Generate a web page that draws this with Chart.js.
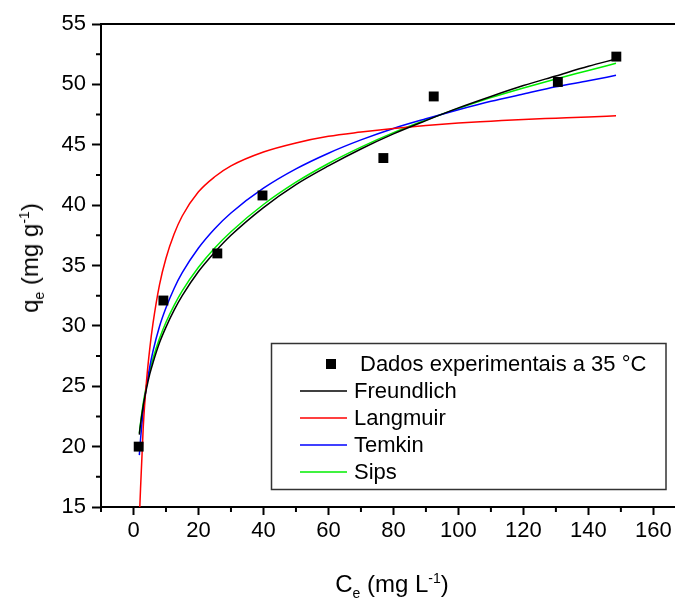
<!DOCTYPE html>
<html>
<head>
<meta charset="utf-8">
<script src="https://cdn.jsdelivr.net/npm/chart.js@4/dist/chart.umd.min.js"></script>
<style>
  body { margin: 0; background: #fff; font-family: "Liberation Sans", Arial, sans-serif; }
  #wrap { position: relative; width: 675px; height: 599px; }
  .ttl { position: absolute; font-size: 24px; color: #000; white-space: nowrap; line-height: 1; }
  .ttl sub, .ttl sup { font-size: 14px; line-height: 0; }
  #xt { left: 392px; top: 572px; transform: translateX(-50%); }
  #yt { left: 30px; top: 258px; transform: translate(-50%, -50%) rotate(-90deg); }
</style>
</head>
<body>
<div id="wrap">
  <canvas id="chart" width="675" height="599"></canvas>
  <div class="ttl" id="xt">C<sub>e</sub> (mg L<sup>-1</sup>)</div>
  <div class="ttl" id="yt">q<sub>e</sub> (mg g<sup>-1</sup>)</div>
</div>
<script>
// pontos experimentais
const ceData = [1.6, 9.2, 25.8, 39.7, 76.9, 92.4, 130.6, 148.6];
const qeData = [20.0, 32.1, 36.0, 40.8, 43.9, 49.0, 50.2, 52.3];

// curvas ajustadas
const fitCe = [1.8, 2, 3, 4, 5, 6, 8, 10, 12.5, 15, 20, 25, 30, 40, 50, 60, 70, 80, 90, 100, 110, 120, 130, 140, 148.5];
const freundlich = [21.0, 21.5, 23.4, 24.8, 26.0, 26.95, 28.6, 29.9, 31.3, 32.5, 34.5, 36.1, 37.5, 39.8, 41.7, 43.25, 44.65, 45.9, 47.0, 48.05, 49.0, 49.9, 50.7, 51.5, 52.1];
const langmuir = [14.0, 15.4, 21.6, 25.4, 28.1, 30.2, 33.4, 35.6, 37.6, 39.1, 41.1, 42.35, 43.25, 44.4, 45.15, 45.7, 46.05, 46.35, 46.6, 46.8, 46.95, 47.1, 47.2, 47.3, 47.4];
const temkin = [19.3, 20.05, 22.95, 25.0, 26.6, 27.9, 29.95, 31.5, 33.1, 34.4, 36.45, 38.05, 39.35, 41.4, 43.0, 44.3, 45.4, 46.35, 47.15, 47.9, 48.6, 49.2, 49.8, 50.3, 50.75];
const sips = [21.1, 21.6, 23.6, 25.1, 26.3, 27.3, 28.95, 30.3, 31.7, 32.9, 34.85, 36.45, 37.8, 40.05, 41.9, 43.45, 44.8, 46.0, 47.05, 48.0, 48.9, 49.7, 50.45, 51.15, 51.75];

const xTicks = [0, 20, 40, 60, 80, 100, 120, 140, 160];
const xMinor = [-10, 10, 30, 50, 70, 90, 110, 130, 150];
const yTicks = [15, 20, 25, 30, 35, 40, 45, 50, 55];
const yMinor = [17.5, 22.5, 27.5, 32.5, 37.5, 42.5, 47.5, 52.5];

const FONT = '"Liberation Sans", Arial, sans-serif';
const pts = (xs, ys) => xs.map((x, i) => ({ x: x, y: ys[i] }));

function curve(label, values, color) {
  return {
    label: label,
    data: pts(fitCe, values),
    showLine: true,
    borderColor: color,
    borderWidth: 1.5,
    pointRadius: 0,
    cubicInterpolationMode: "monotone",
    fill: false,
  };
}

const extras = {
  id: "extras",
  afterDraw(chart) {
    const ctx = chart.ctx;
    const a = chart.chartArea;
    const sx = chart.scales.x, sy = chart.scales.y;
    ctx.save();
    ctx.strokeStyle = "#000";
    ctx.lineWidth = 2;
    // linha superior e continuação do eixo x até a borda
    ctx.beginPath();
    ctx.moveTo(a.left, a.top);
    ctx.lineTo(chart.width, a.top);
    ctx.moveTo(a.right, a.bottom);
    ctx.lineTo(chart.width, a.bottom);
    ctx.stroke();
    // ticks menores
    ctx.beginPath();
    xMinor.forEach((v) => {
      const px = sx.getPixelForValue(v);
      ctx.moveTo(px, a.bottom);
      ctx.lineTo(px, a.bottom + 5);
    });
    yMinor.forEach((v) => {
      const py = sy.getPixelForValue(v);
      ctx.moveTo(a.left, py);
      ctx.lineTo(a.left - 5, py);
    });
    ctx.stroke();

    // legenda
    ctx.lineWidth = 1.5;
    ctx.strokeStyle = "#333";
    ctx.strokeRect(271.5, 343.5, 394.5, 146);
    ctx.font = "22px " + FONT;
    ctx.textBaseline = "middle";
    chart.data.datasets.forEach((ds, i) => {
      const y = 364 + i * 27;
      if (i === 0) {
        ctx.fillStyle = "#000";
        ctx.fillRect(326, y - 5, 10, 10);
        ctx.fillText(ds.label, 360, y + 1);
      } else {
        ctx.strokeStyle = ds.borderColor;
        ctx.lineWidth = 1.5;
        ctx.beginPath();
        ctx.moveTo(300, y);
        ctx.lineTo(347, y);
        ctx.stroke();
        ctx.fillStyle = "#000";
        ctx.fillText(ds.label, 354, y + 1);
      }
    });
    ctx.restore();
  },
};

new Chart(document.getElementById("chart"), {
  type: "scatter",
  data: {
    datasets: [
      {
        label: "Dados experimentais a 35 °C",
        data: pts(ceData, qeData),
        pointStyle: "rect",
        pointRadius: 7,
        pointHoverRadius: 7,
        backgroundColor: "#000",
        borderColor: "#000",
        borderWidth: 0,
        showLine: false,
        order: 0,
      },
      curve("Freundlich", freundlich, "#000000"),
      curve("Langmuir", langmuir, "#ff0000"),
      curve("Temkin", temkin, "#0000ff"),
      curve("Sips", sips, "#00ee00"),
    ],
  },
  options: {
    responsive: false,
    animation: false,
    layout: { padding: { top: 24, right: 0, left: 0, bottom: 0 } },
    plugins: { legend: { display: false }, tooltip: { enabled: false } },
    scales: {
      x: {
        type: "linear",
        min: -10,
        max: 164.5,
        afterFit: (s) => { s.height = 92; },
        afterBuildTicks: (s) => { s.ticks = xTicks.map((v) => ({ value: v })); },
        border: { display: true, color: "#000", width: 2 },
        grid: {
          drawOnChartArea: false,
          drawTicks: true,
          tickLength: 8,
          tickWidth: 2,
          tickColor: "#000",
        },
        ticks: {
          autoSkip: false,
          maxRotation: 0,
          padding: 3,
          color: "#000",
          font: { family: FONT, size: 22 },
        },
      },
      y: {
        type: "linear",
        min: 15,
        max: 55,
        afterFit: (s) => { s.width = 101; },
        afterBuildTicks: (s) => { s.ticks = yTicks.map((v) => ({ value: v })); },
        border: { display: true, color: "#000", width: 2 },
        grid: {
          drawOnChartArea: false,
          drawTicks: true,
          tickLength: 9,
          tickWidth: 2,
          tickColor: "#000",
        },
        ticks: {
          padding: 6,
          color: "#000",
          font: { family: FONT, size: 22 },
        },
      },
    },
  },
  plugins: [extras],
});
</script>
</body>
</html>
